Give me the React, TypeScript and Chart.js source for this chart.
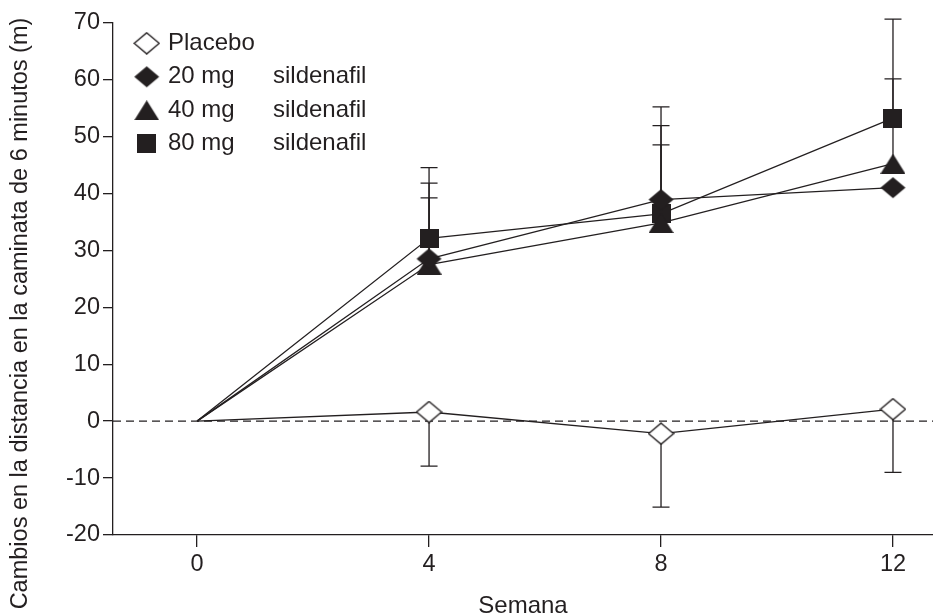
import React, { useEffect, useRef } from 'react';
import { Chart, registerables } from 'chart.js';

Chart.register(...registerables);

// ---------- data ----------
const weeks = [0, 4, 8, 12];
const xTickValues = [0, 4, 8, 12];
const xRange = [-1.45, 12.69];
const yRange = [-20, 70];
const yStep = 10;
const seriesLabels = ['Placebo', '20 mg', '40 mg', '80 mg'];
const seriesSuffix = ['', 'sildenafil', 'sildenafil', 'sildenafil'];
const placebo = [0, 1.6, -2.2, 2.1];
const placeboErr = [null, -7.9, -15.1, -9.0];
const sil20 = [0, 28.5, 38.9, 41.0];
const sil20Err = [null, 41.8, 51.9, null];
const sil40 = [0, 27.5, 34.8, 45.2];
const sil40Err = [null, 39.2, 48.5, 60.1];
const sil80 = [0, 32.1, 36.4, 53.2];
const sil80Err = [null, 44.5, 55.2, 70.6];
const referenceValue = 0;
const xTitle = 'Semana';
const yTitle = 'Cambios en la distancia en la caminata de 6 minutos (m)';

const INK = '#231f20';
const FONT = "'Liberation Sans', Arial, Helvetica, sans-serif";
const TICK_SIZE = 23.5;
const LEGEND_SIZE = 24;
const TITLE_SIZE = 24;
const YTITLE_SIZE = 23.5;

function makeMarker(kind: string): HTMLCanvasElement {
  const c = document.createElement('canvas');
  let w = 27;
  let h = 23;
  if (kind === 'square') { w = 19; h = 19; }
  if (kind === 'triangle') { w = 25; h = 20; }
  c.width = w;
  c.height = h;
  const ctx = c.getContext('2d')!;
  ctx.fillStyle = INK;
  ctx.strokeStyle = INK;
  ctx.lineWidth = 1.4;
  ctx.beginPath();
  if (kind === 'diamond' || kind === 'openDiamond') {
    ctx.moveTo(w / 2, 1);
    ctx.lineTo(w - 1, h / 2);
    ctx.lineTo(w / 2, h - 1);
    ctx.lineTo(1, h / 2);
    ctx.closePath();
  } else if (kind === 'triangle') {
    ctx.moveTo(w / 2, 0);
    ctx.lineTo(w, h);
    ctx.lineTo(0, h);
    ctx.closePath();
  } else {
    ctx.rect(0, 0, w, h);
  }
  if (kind === 'openDiamond') {
    ctx.fillStyle = '#ffffff';
    ctx.fill();
    ctx.stroke();
  } else {
    ctx.fill();
  }
  return c;
}

export default function App() {
  const ref = useRef<HTMLCanvasElement | null>(null);

  useEffect(() => {
    document.body.style.margin = '0';
    const canvas = ref.current;
    if (!canvas) return;

    const markers = [
      makeMarker('openDiamond'),
      makeMarker('diamond'),
      makeMarker('triangle'),
      makeMarker('square'),
    ];
    const seriesValues = [placebo, sil20, sil40, sil80];
    const seriesErrors = [placeboErr, sil20Err, sil40Err, sil80Err];

    const pointRadii = weeks.map((w) => (w === 0 ? 0 : 10));

    const datasets = seriesValues.map((vals, i) => ({
      label: seriesLabels[i],
      data: weeks.map((w, j) => ({ x: w, y: vals[j] })),
      borderColor: INK,
      borderWidth: 1.3,
      backgroundColor: INK,
      pointStyle: markers[i],
      pointRadius: pointRadii,
      pointHoverRadius: pointRadii,
      tension: 0,
      fill: false,
      clip: false as any,
    }));

    const referencePlugin = {
      id: 'referenceLine',
      beforeDatasetsDraw(chart: any) {
        const { ctx, chartArea, scales } = chart;
        const y = scales.y.getPixelForValue(referenceValue);
        ctx.save();
        ctx.strokeStyle = INK;
        ctx.lineWidth = 1.3;
        ctx.setLineDash([8, 5]);
        ctx.beginPath();
        ctx.moveTo(chartArea.left, y);
        ctx.lineTo(chartArea.right, y);
        ctx.stroke();
        ctx.restore();
      },
    };

    const errorBarPlugin = {
      id: 'errorBars',
      beforeDatasetsDraw(chart: any) {
        const { ctx, scales } = chart;
        ctx.save();
        ctx.strokeStyle = INK;
        ctx.lineWidth = 1.3;
        seriesErrors.forEach((errs, i) => {
          errs.forEach((e, j) => {
            if (e === null || e === undefined) return;
            const x = scales.x.getPixelForValue(weeks[j]);
            const y0 = scales.y.getPixelForValue(seriesValues[i][j]);
            const y1 = scales.y.getPixelForValue(e);
            ctx.beginPath();
            ctx.moveTo(x, y0);
            ctx.lineTo(x, y1);
            ctx.moveTo(x - 8.5, y1);
            ctx.lineTo(x + 8.5, y1);
            ctx.stroke();
          });
        });
        ctx.restore();
      },
    };

    const legendPlugin = {
      id: 'customLegend',
      afterDraw(chart: any) {
        const { ctx, chartArea } = chart;
        ctx.save();
        ctx.fillStyle = INK;
        ctx.font = `${LEGEND_SIZE}px ${FONT}`;
        ctx.textBaseline = 'middle';
        ctx.textAlign = 'left';
        const mx = chartArea.left + 33.7;
        const tx = chartArea.left + 55;
        const sx = chartArea.left + 160;
        seriesLabels.forEach((lab, i) => {
          const y = chartArea.top + 20.8 + i * 33.5;
          const m = markers[i];
          ctx.drawImage(m, mx - m.width / 2, y - m.height / 2);
          ctx.fillText(lab, tx, y);
          if (seriesSuffix[i]) ctx.fillText(seriesSuffix[i], sx, y);
        });
        // y axis title
        ctx.font = `${YTITLE_SIZE}px ${FONT}`;
        ctx.translate(21, chart.height / 2 + 5.5);
        ctx.rotate(-Math.PI / 2);
        ctx.textAlign = 'center';
        ctx.fillText(yTitle, 0, 0);
        ctx.restore();
      },
    };

    const gridOpts = (len: number) => ({
      drawOnChartArea: false,
      drawTicks: true,
      tickLength: len,
      tickColor: INK,
      tickWidth: 1.3,
      color: INK,
      lineWidth: 1.3,
    });

    const chart = new Chart(canvas, {
      type: 'line',
      data: { datasets: datasets as any },
      options: {
        animation: false,
        responsive: false,
        devicePixelRatio: 1,
        layout: { autoPadding: false, padding: { top: 22.5, left: 0, right: 0, bottom: 0 } },
        plugins: {
          legend: { display: false },
          tooltip: { enabled: false },
        },
        scales: {
          x: {
            type: 'linear',
            min: xRange[0],
            max: xRange[1],
            afterBuildTicks: (scale: any) => {
              scale.ticks = xTickValues.map((v) => ({ value: v }));
            },
            afterFit: (scale: any) => {
              scale.height = 81;
              scale.paddingLeft = 0;
              scale.paddingRight = 0;
              scale.paddingTop = 0;
              scale.paddingBottom = 0;
            },
            grid: gridOpts(12) as any,
            border: { display: true, color: INK, width: 1.3 },
            ticks: {
              color: INK,
              padding: 3,
              maxRotation: 0,
              autoSkip: false,
              font: { family: FONT, size: TICK_SIZE },
            },
            title: {
              display: true,
              text: xTitle,
              color: INK,
              padding: { top: 0, bottom: 0 },
              font: { family: FONT, size: TITLE_SIZE, lineHeight: '20px' } as any,
            },
          },
          y: {
            type: 'linear',
            min: yRange[0],
            max: yRange[1],
            afterFit: (scale: any) => {
              scale.width = 113;
              scale.paddingTop = 0;
              scale.paddingBottom = 0;
            },
            grid: gridOpts(10) as any,
            border: { display: true, color: INK, width: 1.3 },
            ticks: {
              stepSize: yStep,
              color: INK,
              padding: 3,
              font: { family: FONT, size: TICK_SIZE },
            },
          },
        },
      },
      plugins: [referencePlugin, errorBarPlugin, legendPlugin],
    });

    return () => chart.destroy();
  }, []);

  return (
    <div style={{ width: 933, height: 616, background: '#ffffff' }}>
      <canvas ref={ref} width={933} height={616} style={{ display: 'block' }} />
    </div>
  );
}
